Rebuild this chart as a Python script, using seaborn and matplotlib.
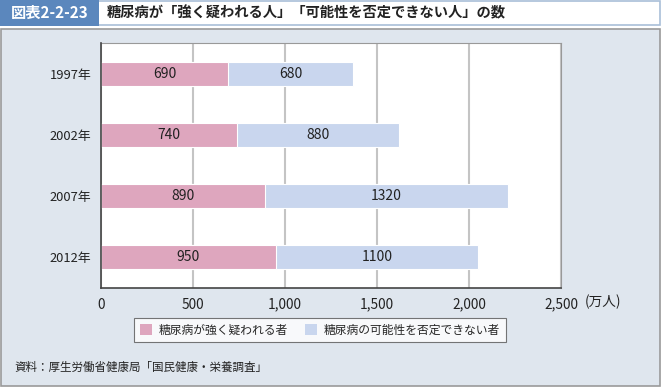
import pandas as pd
import matplotlib.pyplot as plt
import seaborn as sns
from matplotlib.patches import Rectangle, Patch
from matplotlib.ticker import FixedLocator

# Data
years = ['1997年', '2002年', '2007年', '2012年']
strong = [690, 740, 890, 950]          # 糖尿病が強く疑われる者
possible = [680, 880, 1320, 1100]      # 糖尿病の可能性を否定できない者
xticks = [0, 500, 1000, 1500, 2000, 2500]
xtick_labels = ['0', '500', '1,000', '1,500', '2,000', '2,500']

pink = '#dea6be'
blue = '#c9d6ee'

df = pd.DataFrame({'year': years, 'strong': strong, 'possible': possible})
df['total'] = df['strong'] + df['possible']

sns.set_style('white')
plt.rcParams['font.family'] = ['Noto Sans CJK JP', 'DejaVu Sans']

W, H = 662, 388
fig = plt.figure(figsize=(W / 100, H / 100), dpi=100, facecolor='white')

def px(x0, y0, x1, y1):
    # pixel box (top-left origin) -> figure fraction rect
    return (x0 / W, 1 - y1 / H, (x1 - x0) / W, (y1 - y0) / H)

def box(rect, **kw):
    fig.patches.append(Rectangle(rect[:2], rect[2], rect[3],
                                 transform=fig.transFigure, **kw))

# background panel and title bar
box(px(1, 29, 660, 386), facecolor='#dfe6ee', edgecolor='#9a9a9a', lw=1.2, zorder=-3)
box(px(1, 1, 660, 25), facecolor='white', edgecolor='#a9bfd8', lw=1.2, zorder=-3)
box(px(0, 0, 99, 26), facecolor='#5b87bd', edgecolor='none', zorder=-2)
fig.text(50 / W, 1 - 13 / H, '図表2-2-23', color='white', fontsize=11,
         fontweight='bold', ha='center', va='center')
fig.text(107 / W, 1 - 13 / H, '糖尿病が「強く疑われる人」「可能性を否定できない人」の数',
         color='#222222', fontsize=10.3, fontweight='bold', ha='left', va='center')

ax = fig.add_axes(px(101, 43, 561, 288))
ax.set_zorder(2)
ax.set_facecolor('white')

sns.barplot(data=df, y='year', x='total', orient='h', color=blue, saturation=1,
            width=0.39, edgecolor='white', linewidth=0.8, ax=ax, zorder=3)
sns.barplot(data=df, y='year', x='strong', orient='h', color=pink, saturation=1,
            width=0.39, edgecolor='white', linewidth=0.8, ax=ax, zorder=3)

# segment labels
for i, row in df.iterrows():
    ax.text(row['strong'] / 2, i, f"{row['strong']}", ha='center', va='center',
            fontsize=10, color='#222222', zorder=4)
    ax.text(row['strong'] + row['possible'] / 2, i, f"{row['possible']}",
            ha='center', va='center', fontsize=10, color='#222222', zorder=4)

ax.set_xlim(0, 2500)
ax.set_ylim(3.5, -0.5)
ax.set_xticks(xticks)
ax.set_xticklabels(xtick_labels, fontsize=9.8, color='#222222')
ax.set_ylabel('')
ax.set_xlabel('')
ax.tick_params(axis='y', labelsize=9.3, labelcolor='#222222', length=0, pad=7)
ax.tick_params(axis='x', direction='in', length=4, color='#444444', pad=7)
ax.yaxis.set_minor_locator(FixedLocator([0.5, 1.5, 2.5]))
ax.tick_params(axis='y', which='minor', direction='in', length=3, color='#444444')
ax.xaxis.grid(True, color='#c4c4c4', lw=1.5, zorder=0)
ax.yaxis.grid(False)
ax.set_axisbelow(True)
for s in ['left', 'bottom']:
    ax.spines[s].set_color('#444444')
    ax.spines[s].set_linewidth(1.2)
for s in ['top', 'right']:
    ax.spines[s].set_color('#999999')
    ax.spines[s].set_linewidth(0.8)
ax.spines['left'].set_zorder(5)

fig.text(585 / W, 1 - 302 / H, '(万人)', fontsize=9.8, color='#222222',
         ha='left', va='center')

handles = [Patch(facecolor=pink, edgecolor='none', label='糖尿病が強く疑われる者'),
           Patch(facecolor=blue, edgecolor='none', label='糖尿病の可能性を否定できない者')]
leg = fig.legend(handles=handles, loc='center', bbox_to_anchor=(320 / W, 1 - 330 / H),
                 ncol=2, fontsize=8.5, frameon=True, fancybox=False,
                 handlelength=1.0, handleheight=1.0, handletextpad=0.6,
                 columnspacing=1.4, borderpad=0.5)
leg.get_frame().set_edgecolor('#555555')
leg.get_frame().set_linewidth(0.8)

fig.text(14 / W, 1 - 367 / H, '資料：厚生労働省健康局「国民健康・栄養調査」',
         fontsize=8.3, color='#222222', ha='left', va='center')

fig.savefig('out.png', dpi=100, facecolor=fig.get_facecolor())
